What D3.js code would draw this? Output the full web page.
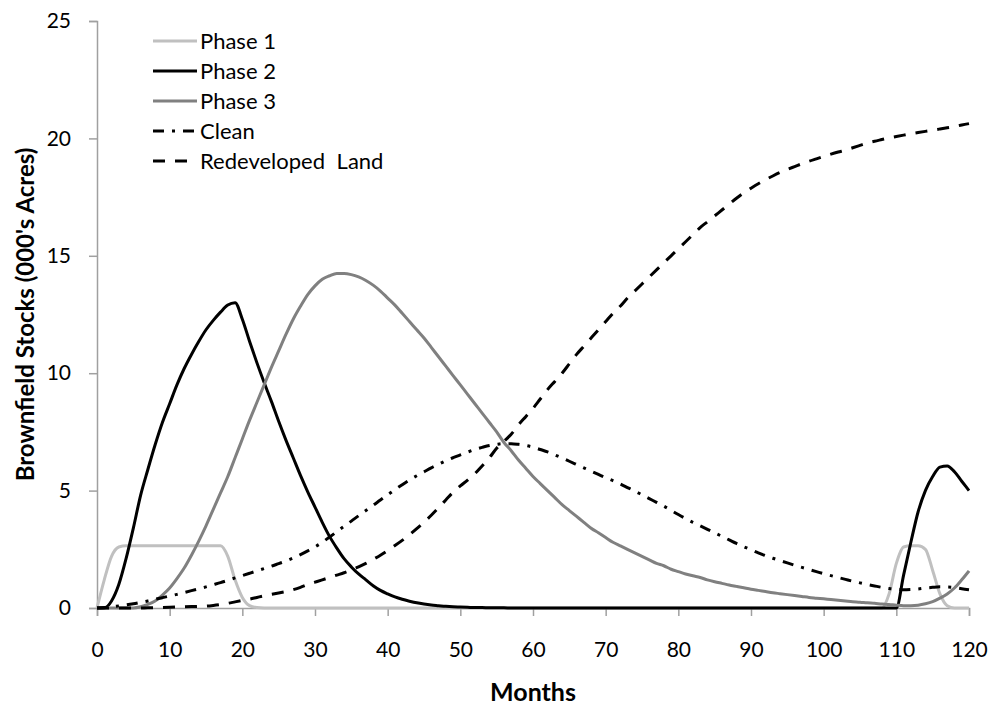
<!DOCTYPE html>
<html>
<head>
<meta charset="utf-8">
<script src="https://cdn.jsdelivr.net/npm/d3@7"></script>
<style>
  body { margin: 0; background: #fff; }
  text { font-family: Lato, "Open Sans", sans-serif; fill: #000; }
</style>
</head>
<body>
<script>
'use strict';

// months 0..120
var months = d3.range(0, 121);

var phase1 = [0, 1.2, 2.2, 2.6, 2.65, 2.65, 2.65, 2.65, 2.65, 2.65,
  2.65, 2.65, 2.65, 2.65, 2.65, 2.65, 2.65, 2.65, 2.2, 1.2,
  0.45, 0.1, 0.02, 0, 0, 0, 0, 0, 0, 0,
  0, 0, 0, 0, 0, 0, 0, 0, 0, 0,
  0, 0, 0, 0, 0, 0, 0, 0, 0, 0,
  0, 0, 0, 0, 0, 0, 0, 0, 0, 0,
  0, 0, 0, 0, 0, 0, 0, 0, 0, 0,
  0, 0, 0, 0, 0, 0, 0, 0, 0, 0,
  0, 0, 0, 0, 0, 0, 0, 0, 0, 0,
  0, 0, 0, 0, 0, 0, 0, 0, 0, 0,
  0, 0, 0, 0, 0, 0, 0, 0, 0, 0.6,
  1.9, 2.6, 2.65, 2.65, 2.5, 1.6, 0.6, 0.1, 0, 0,
  0];

var phase2 = [0, 0, 0.3, 1.0, 2.1, 3.4, 4.8, 5.9, 6.95, 7.9,
  8.7, 9.5, 10.2, 10.8, 11.35, 11.85, 12.25, 12.6, 12.9, 13.0,
  12.3, 11.35, 10.45, 9.6, 8.8, 7.95, 7.15, 6.4, 5.65, 4.95,
  4.3, 3.65, 3.05, 2.55, 2.1, 1.75, 1.45, 1.2, 0.95, 0.75,
  0.6, 0.47, 0.37, 0.29, 0.22, 0.17, 0.13, 0.1, 0.07, 0.05,
  0.04, 0.03, 0.02, 0.02, 0.01, 0.01, 0.01, 0, 0, 0,
  0, 0, 0, 0, 0, 0, 0, 0, 0, 0,
  0, 0, 0, 0, 0, 0, 0, 0, 0, 0,
  0, 0, 0, 0, 0, 0, 0, 0, 0, 0,
  0, 0, 0, 0, 0, 0, 0, 0, 0, 0,
  0, 0, 0, 0, 0, 0, 0, 0, 0, 0,
  0, 1.4, 2.8, 4.1, 5.0, 5.6, 6.0, 6.05, 5.8, 5.4,
  5.0];

var phase3 = [0, 0, 0, 0, 0, 0, 0.05, 0.15, 0.3, 0.55,
  0.85, 1.25, 1.7, 2.25, 2.85, 3.5, 4.2, 4.9, 5.6, 6.4,
  7.2, 8.0, 8.75, 9.5, 10.25, 10.95, 11.65, 12.3, 12.85, 13.35,
  13.72, 14.0, 14.15, 14.25, 14.25, 14.2, 14.1, 13.95, 13.75, 13.5,
  13.2, 12.9, 12.55, 12.2, 11.85, 11.5, 11.1, 10.7, 10.3, 9.9,
  9.5, 9.1, 8.7, 8.3, 7.9, 7.5, 7.05, 6.7, 6.3, 5.95,
  5.6, 5.3, 5.0, 4.7, 4.4, 4.15, 3.9, 3.65, 3.4, 3.2,
  3.0, 2.8, 2.65, 2.5, 2.35, 2.2, 2.05, 1.9, 1.8, 1.65,
  1.55, 1.45, 1.37, 1.3, 1.2, 1.12, 1.05, 0.98, 0.92, 0.86,
  0.8, 0.75, 0.7, 0.65, 0.61, 0.57, 0.53, 0.49, 0.45, 0.42,
  0.39, 0.36, 0.33, 0.3, 0.27, 0.25, 0.22, 0.2, 0.17, 0.15,
  0.12, 0.1, 0.1, 0.12, 0.18, 0.27, 0.42, 0.6, 0.85, 1.2,
  1.58];

var clean = [0, 0.02, 0.05, 0.09, 0.13, 0.18, 0.24, 0.3, 0.37, 0.44,
  0.51, 0.58, 0.66, 0.74, 0.82, 0.9, 0.99, 1.08, 1.18, 1.28,
  1.38, 1.48, 1.58, 1.68, 1.78, 1.89, 2.0, 2.13, 2.27, 2.43,
  2.6, 2.8, 3.02, 3.25, 3.48, 3.7, 3.93, 4.15, 4.37, 4.6,
  4.82, 5.04, 5.25, 5.45, 5.63, 5.8, 5.97, 6.12, 6.27, 6.4,
  6.52, 6.64, 6.75, 6.84, 6.92, 6.97, 7.0, 7.0, 6.97, 6.92,
  6.85, 6.75, 6.65, 6.52, 6.39, 6.25, 6.11, 5.97, 5.83, 5.69,
  5.55, 5.42, 5.28, 5.13, 4.98, 4.82, 4.66, 4.5, 4.34, 4.16,
  3.98, 3.81, 3.65, 3.5, 3.35, 3.2, 3.05, 2.9, 2.75, 2.61,
  2.48, 2.35, 2.23, 2.12, 2.02, 1.92, 1.82, 1.73, 1.64, 1.55,
  1.46, 1.38, 1.3, 1.22, 1.14, 1.07, 1.0, 0.94, 0.88, 0.83,
  0.8, 0.78, 0.79, 0.81, 0.85, 0.88, 0.9, 0.9, 0.87, 0.82,
  0.78];

var redeveloped = [0, 0, 0, 0, 0, 0, 0, 0.01, 0.01, 0.02,
  0.03, 0.04, 0.05, 0.06, 0.07, 0.08, 0.11, 0.15, 0.2, 0.26,
  0.32, 0.38, 0.45, 0.52, 0.58, 0.64, 0.7, 0.78, 0.88, 1.0,
  1.1, 1.2, 1.3, 1.4, 1.5, 1.62, 1.75, 1.9, 2.07, 2.25,
  2.45, 2.66, 2.88, 3.12, 3.38, 3.65, 3.95, 4.27, 4.6, 4.93,
  5.2, 5.45, 5.72, 6.05, 6.4, 6.8, 7.1, 7.4, 7.8, 8.15,
  8.5, 8.9, 9.3, 9.65, 10.0, 10.4, 10.8, 11.15, 11.5, 11.85,
  12.2, 12.55, 12.85, 13.2, 13.5, 13.8, 14.1, 14.4, 14.7, 15.0,
  15.3, 15.6, 15.9, 16.2, 16.45, 16.7, 16.95, 17.2, 17.45, 17.68,
  17.88, 18.07, 18.24, 18.4, 18.55, 18.68, 18.8, 18.92, 19.03, 19.13,
  19.23, 19.33, 19.42, 19.5, 19.6, 19.7, 19.8, 19.88, 19.95, 20.02,
  20.08, 20.14, 20.2, 20.25, 20.3, 20.35, 20.4, 20.45, 20.5, 20.57,
  20.63];

var seriesNames = ["Phase 1", "Phase 2", "Phase 3", "Clean", "Redeveloped Land"];
var xTicks = [0, 10, 20, 30, 40, 50, 60, 70, 80, 90, 100, 110, 120];
var yTicks = [0, 5, 10, 15, 20, 25];

var series = [
  { name: seriesNames[0], values: phase1, color: "#c0c0c0", dash: null },
  { name: seriesNames[1], values: phase2, color: "#000000", dash: null },
  { name: seriesNames[2], values: phase3, color: "#808080", dash: null },
  { name: seriesNames[3], values: clean, color: "#000000", dash: "11,8,3,8" },
  { name: seriesNames[4], values: redeveloped, color: "#000000", dash: "12,10" }
];

var width = 1000, height = 712;
var margin = { top: 21, right: 31, bottom: 104, left: 97 };
var w = width - margin.left - margin.right,
    h = height - margin.top - margin.bottom;

var svg = d3.select("body").append("svg")
    .attr("width", width)
    .attr("height", height);

var g = svg.append("g")
    .attr("transform", "translate(" + margin.left + "," + margin.top + ")");

var x = d3.scaleLinear().domain([0, 120]).range([0, w]);
var y = d3.scaleLinear().domain([0, 25]).range([h, 0]);

var axisColor = "#a0a0a0";

var xAxis = g.append("g")
    .attr("transform", "translate(0," + h + ")")
    .call(d3.axisBottom(x).tickValues(xTicks).tickSize(8).tickPadding(26).tickFormat(d3.format("d")));

var yAxis = g.append("g")
    .call(d3.axisLeft(y).tickValues(yTicks).tickSize(8).tickPadding(18).tickFormat(d3.format("d")));

[xAxis, yAxis].forEach(function (a) {
    a.selectAll("path").attr("stroke", axisColor).attr("stroke-width", 1.5);
    a.selectAll("line").attr("stroke", axisColor).attr("stroke-width", 1.5);
    a.selectAll("text").style("font-size", "21px").attr("fill", "#000");
});

var line = d3.line()
    .x(function (d, i) { return x(months[i]); })
    .y(function (d) { return y(d); })
    .curve(d3.curveMonotoneX);

series.forEach(function (s) {
    g.append("path")
        .datum(s.values)
        .attr("fill", "none")
        .attr("stroke", s.color)
        .attr("stroke-width", 3)
        .attr("stroke-dasharray", s.dash)
        .attr("d", line);
});

// legend
var legend = svg.append("g");
series.forEach(function (s, i) {
    var ly = 41 + i * 30;
    legend.append("line")
        .attr("x1", 153).attr("x2", 197)
        .attr("y1", ly).attr("y2", ly)
        .attr("stroke", s.color)
        .attr("stroke-width", 3)
        .attr("stroke-dasharray", s.dash);
    legend.append("text")
        .attr("x", 200).attr("y", ly)
        .attr("dy", "0.35em")
        .style("font-size", "22px")
        .style("word-spacing", i === 4 ? "6px" : null)
        .text(s.name);
});

svg.append("text")
    .attr("x", margin.left + w / 2)
    .attr("y", 701)
    .attr("text-anchor", "middle")
    .style("font-size", "25px")
    .style("font-weight", "bold")
    .text("Months");

svg.append("text")
    .attr("transform", "translate(34," + (margin.top + h / 2) + ") rotate(-90)")
    .attr("text-anchor", "middle")
    .style("font-size", "24px")
    .style("font-weight", "bold")
    .text("Brownfield Stocks (000's Acres)");
</script>
</body>
</html>
